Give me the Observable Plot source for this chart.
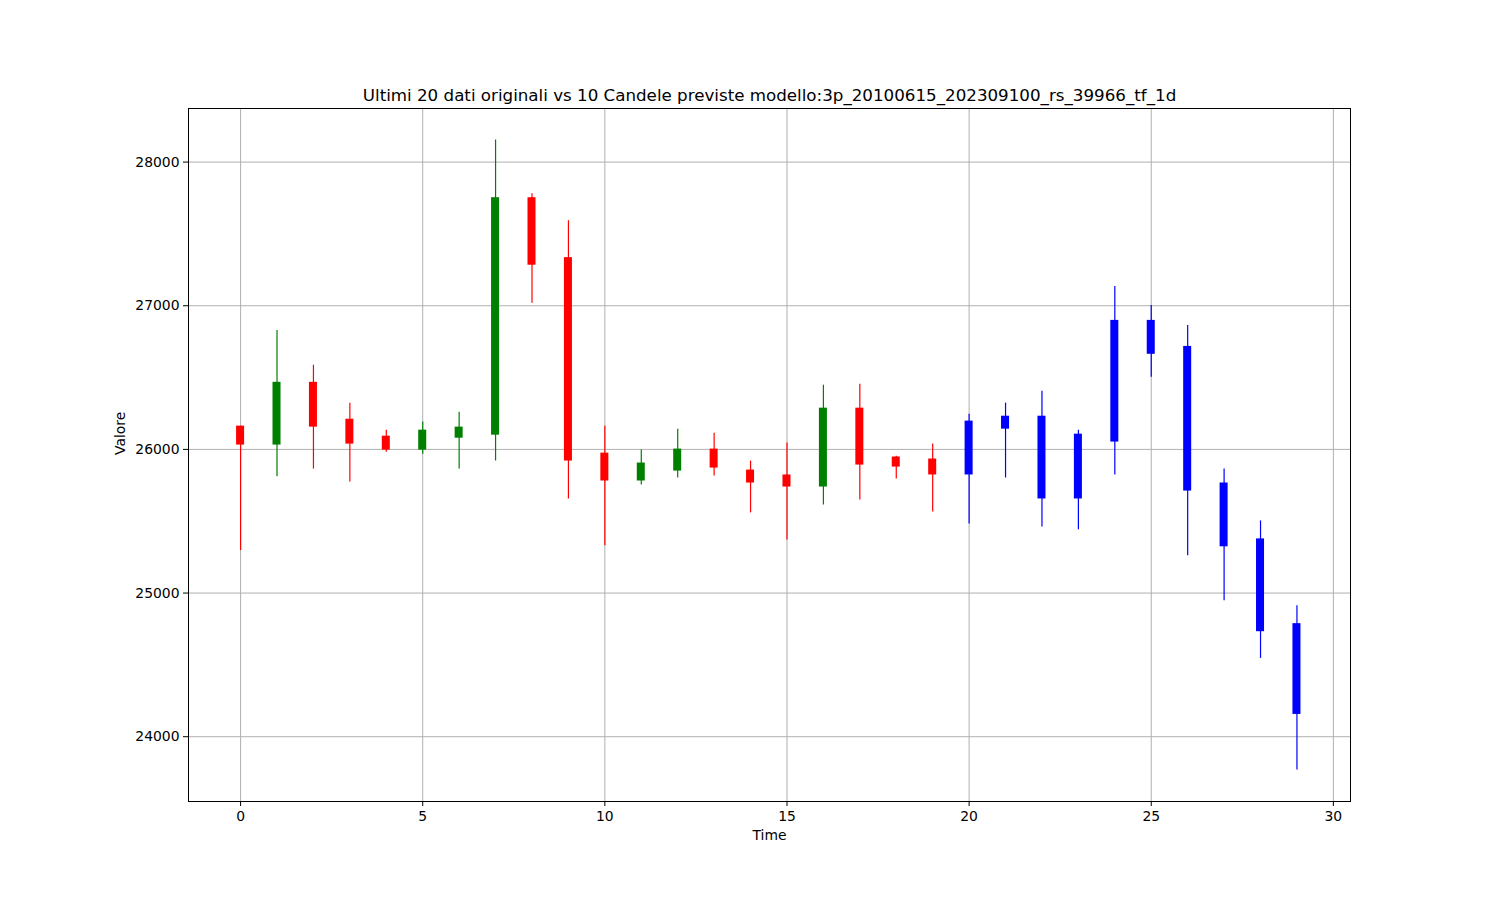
<!DOCTYPE html>
<html>
<head>
<meta charset="utf-8">
<script src="https://cdn.jsdelivr.net/npm/d3@7"></script>
<script src="https://cdn.jsdelivr.net/npm/@observablehq/plot@0.6"></script>
<style>
  html, body { margin: 0; padding: 0; background: #fff; }
  #chart svg { display: block; }
</style>
</head>
<body>
<div id="chart"></div>
<script>
// Time index of each candle
const times = d3.range(0, 30);
// First 20 are original data, last 10 are predicted candles
const originalCount = 20;
const opens  = [26162, 26030, 26467, 26210, 26092, 25995, 26078, 26099, 27752, 27335,
                25974, 25780, 25849, 26002, 25856, 25822, 25738, 26287, 25947, 25933,
                25822, 26231, 26231, 25655, 26051, 26898, 26717, 25766, 25377, 24787];
const highs  = [26162, 26828, 26586, 26322, 26134, 26190, 26259, 28154, 27780, 27592,
                26162, 25995, 26141, 26113, 25919, 26044, 26447, 26453, 25953, 26037,
                26245, 26322, 26405, 26134, 27134, 27002, 26863, 25863, 25502, 24912];
const lows   = [25296, 25810, 25863, 25773, 25981, 25967, 25863, 25919, 27018, 25655,
                25329, 25752, 25801, 25815, 25558, 25370, 25613, 25648, 25794, 25565,
                25481, 25801, 25460, 25440, 25822, 26502, 25259, 24947, 24545, 23768];
const closes = [26030, 26467, 26155, 26037, 25995, 26134, 26155, 27752, 27282, 25919,
                25780, 25905, 26002, 25870, 25766, 25738, 26287, 25891, 25877, 25822,
                26197, 26141, 25655, 26106, 26898, 26662, 25710, 25322, 24731, 24155];
const yTicks = [24000, 25000, 26000, 27000, 28000];
const xTicks = [0, 5, 10, 15, 20, 25, 30];
const titleText = "Ultimi 20 dati originali vs 10 Candele previste modello:3p_20100615_202309100_rs_39966_tf_1d";

const candles = times.map((t, i) => ({
  t, open: opens[i], high: highs[i], low: lows[i], close: closes[i],
  color: i >= originalCount ? "blue" : (closes[i] >= opens[i] ? "green" : "red")
}));

const font = "DejaVu Sans, sans-serif";
const halfBody = 0.11;

const chart = Plot.plot({
  width: 1500,
  height: 900,
  marginLeft: 188,
  marginRight: 150,
  marginTop: 108,
  marginBottom: 99,
  style: { fontFamily: font, fontSize: "13.9px", color: "black", background: "white", overflow: "visible" },
  x: { domain: [-1.43, 30.47], ticks: xTicks, label: null },
  y: { domain: [23549, 28373], ticks: yTicks, label: null },
  marks: [
    Plot.gridX(xTicks, { stroke: "#b0b0b0", strokeOpacity: 1, strokeWidth: 1 }),
    Plot.gridY(yTicks, { stroke: "#b0b0b0", strokeOpacity: 1, strokeWidth: 1 }),
    Plot.ruleX(candles, { x: "t", y1: "low", y2: "high", stroke: "color", strokeWidth: 1.2 }),
    Plot.rect(candles, {
      x1: d => d.t - halfBody, x2: d => d.t + halfBody,
      y1: "open", y2: "close", fill: "color"
    }),
    Plot.frame({ stroke: "black", strokeWidth: 1 }),
    Plot.axisX(xTicks, { tickSize: 5, tickPadding: 5, fontSize: 13.9, label: null }),
    Plot.axisY(yTicks, { tickSize: 5, tickPadding: 4, fontSize: 13.9, tickFormat: d3.format("d"), label: null }),
    Plot.text([titleText], { frameAnchor: "top", dy: -8, fontSize: 16.7, fill: "black", lineAnchor: "bottom", text: d => d }),
    Plot.text(["Time"], { frameAnchor: "bottom", dy: 29, fontSize: 13.9, fill: "black", lineAnchor: "top", text: d => d }),
    Plot.text(["Valore"], { frameAnchor: "left", dx: -68, rotate: -90, fontSize: 13.9, fill: "black", text: d => d })
  ]
});

document.getElementById("chart").appendChild(chart);
</script>
</body>
</html>
